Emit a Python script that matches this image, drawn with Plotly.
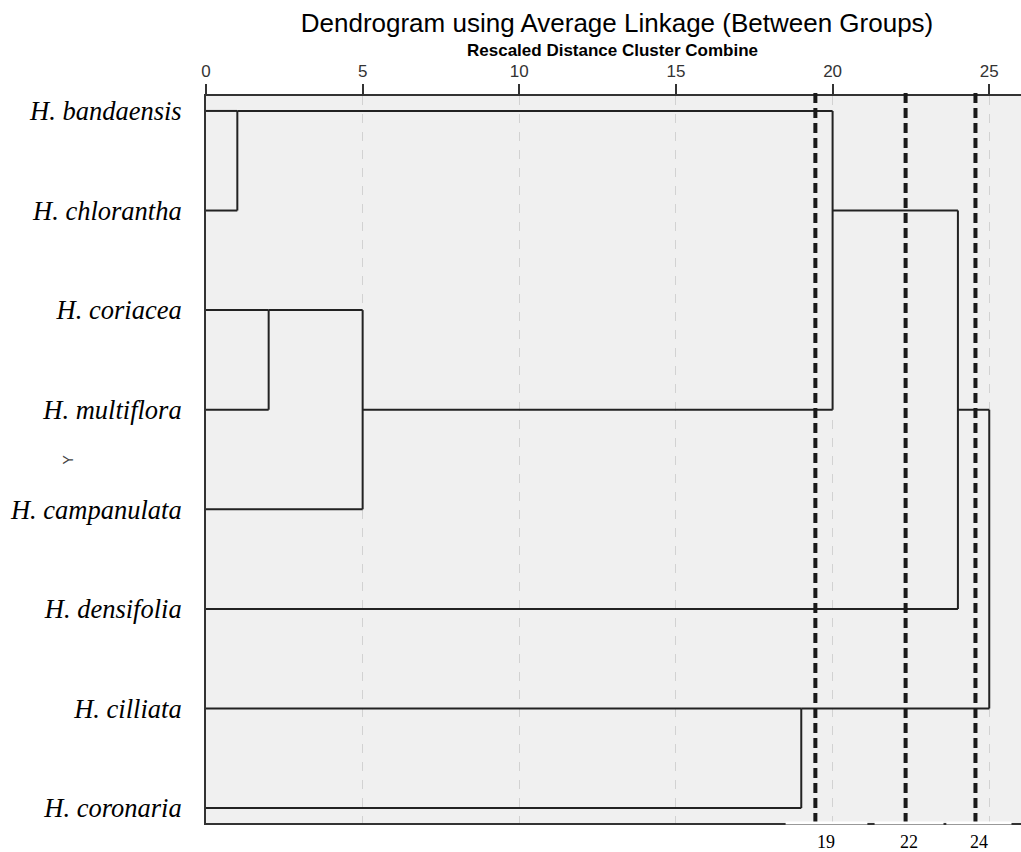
import math
import plotly.graph_objects as go

# ---------------- data ----------------
species = ["H. bandaensis", "H. chlorantha", "H. coriacea", "H. multiflora",
           "H. campanulata", "H. densifolia", "H. cilliata", "H. coronaria"]

# merges: (child_a, child_b, rescaled distance); children are leaf names or merge indices "M#"
merge_a = ["H. bandaensis", "H. coriacea", "M1", "H. cilliata", "M0", "M4", "M5"]
merge_b = ["H. chlorantha", "H. multiflora", "H. campanulata", "H. coronaria", "M2", "H. densifolia", "M3"]
merge_dist = [1, 2, 5, 19, 20, 24, 25]

axis_ticks = [0, 5, 10, 15, 20, 25]

cut_positions = [19.45, 22.33, 24.56]
cut_labels = ["19", "22", "24"]
cut_spans = [(18.5, 21.11), (21.34, 23.54), (23.63, 25.71)]

# ---------------- build dendrogram lines ----------------
nodes = {name: (i, 0.0) for i, name in enumerate(species)}
xs, ys = [], []
for k, (a, b, d) in enumerate(zip(merge_a, merge_b, merge_dist)):
    ra, ha = nodes[a]
    rb, hb = nodes[b]
    xs += [ha, d, None, hb, d, None, d, d, None]
    ys += [ra, ra, None, rb, rb, None, ra, rb, None]
    nodes["M%d" % k] = (math.floor((ra + rb) / 2), d)

fig = go.Figure()
fig.add_trace(go.Scatter(x=xs, y=ys, mode="lines",
                         line=dict(color="#222222", width=2),
                         hoverinfo="skip", showlegend=False))

W, H = 1021, 852
L, R, T, B = 206, 0, 96, 29
pw, ph = W - L - R, H - T - B

# cut lines
for c in cut_positions:
    fig.add_shape(type="line", xref="x", yref="paper", x0=c, x1=c,
                  y0=0, y1=1 + 8 / ph,
                  line=dict(color="#1a1a1a", width=4, dash="10px,5px"))

# white spans at the bottom border + labels
for (s0, s1), lab in zip(cut_spans, cut_labels):
    fig.add_shape(type="line", xref="x", yref="paper", x0=s0, x1=s1,
                  y0=0, y1=0, line=dict(color="white", width=3))
    fig.add_annotation(x=(s0 + s1) / 2, xref="x", y=0, yref="paper",
                       yshift=-31, text=lab, showarrow=False,
                       font=dict(family="Liberation Serif", size=18, color="black"))

fig.update_layout(
    width=W, height=H,
    margin=dict(l=L, r=R, t=T, b=B, autoexpand=False),
    plot_bgcolor="#f0f0f0", paper_bgcolor="white",
    showlegend=False,
    title=dict(text="Dendrogram using Average Linkage (Between Groups)",
               xref="container", x=617 / W, xanchor="center",
               yref="container", y=1 - 23 / H, yanchor="middle",
               font=dict(family="Liberation Sans", size=26, color="black")),
)

fig.add_annotation(text="<b>Rescaled Distance Cluster Combine</b>",
                   xref="paper", x=(612 - L) / pw, yref="paper", y=1 + (96 - 50) / ph,
                   xanchor="center", yanchor="middle", showarrow=False,
                   font=dict(family="Liberation Sans", size=17, color="black"))

fig.add_annotation(text="Y", textangle=-90, xref="paper", x=(67 - L) / pw,
                   yref="paper", y=0.5, xanchor="center", yanchor="middle",
                   showarrow=False,
                   font=dict(family="Liberation Sans", size=14, color="#444444"))

fig.update_xaxes(range=[0, (W - L) / 31.33], side="top",
                 tickvals=axis_ticks, ticks="outside", ticklen=10,
                 tickcolor="#333333", tickwidth=1.5,
                 showline=True, linecolor="#333333", linewidth=2, mirror=True,
                 showgrid=True, gridcolor="#d2d2d2", griddash="dash", gridwidth=1,
                 zeroline=False,
                 tickfont=dict(family="Liberation Sans", size=17, color="#333333"))

fig.update_yaxes(range=[7.15, -0.15], tickvals=list(range(len(species))),
                 ticktext=species, ticks="", showgrid=False, zeroline=False,
                 showline=True, linecolor="#333333", linewidth=2,
                 ticklabelstandoff=17,
                 tickfont=dict(family="Liberation Serif", size=26.5, color="black",
                               style="italic"))

fig.write_html("out.html",
               config={"displayModeBar": False},
               post_script="document.body.style.margin='0';"
                           "document.body.style.overflow='hidden';")
